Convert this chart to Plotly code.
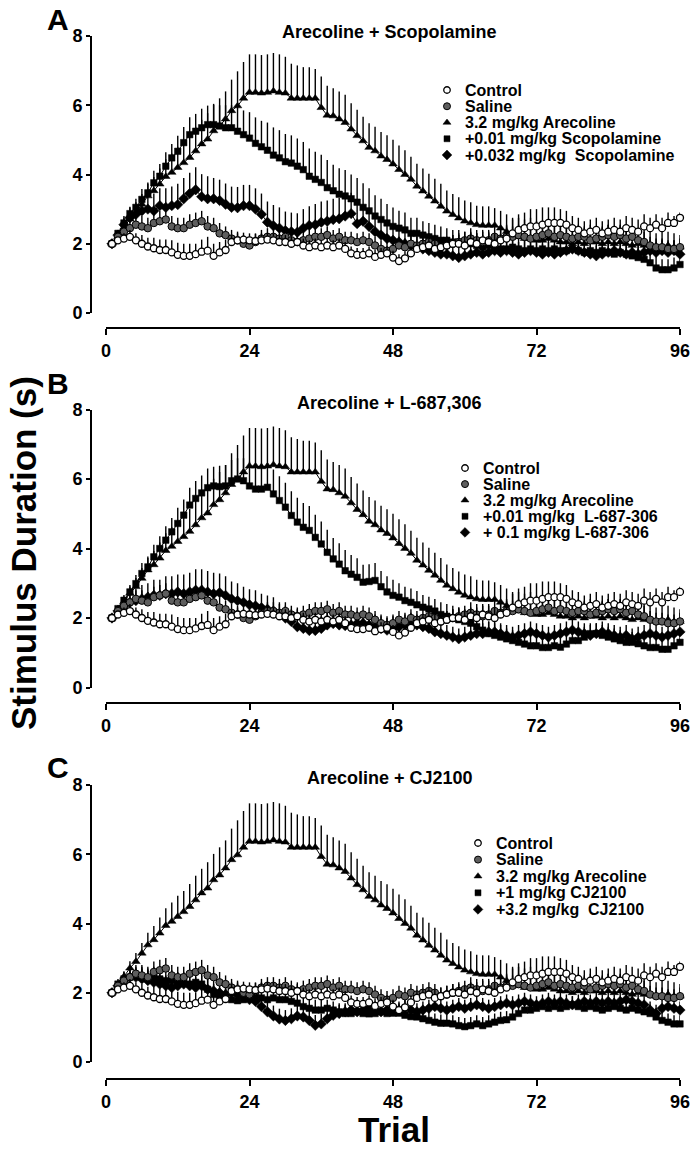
import plotly.graph_objects as go

W, H = 690, 1152
FONT = "Liberation Sans, Arial, sans-serif"

TRIALS = list(range(1, 97))
X_TICKS = [0, 24, 48, 72, 96]
Y_TICKS = [0, 2, 4, 6, 8]

# ---------------- shared series ----------------
CONTROL = [2.00, 2.10, 2.15, 2.20, 2.10, 2.00, 1.92, 1.87, 1.82, 1.82, 1.75, 1.68,
           1.65, 1.65, 1.70, 1.77, 1.80, 1.65, 1.75, 1.82, 2.05, 2.10, 2.12, 2.10,
           2.08, 2.10, 2.12, 2.10, 2.05, 2.05, 2.00, 2.05, 1.95, 1.90, 1.95, 1.90,
           1.95, 1.90, 1.95, 1.85, 1.72, 1.68, 1.68, 1.72, 1.62, 1.68, 1.72, 1.60,
           1.50, 1.58, 1.72, 1.85, 1.90, 1.95, 1.85, 1.90, 1.95, 2.00, 2.00, 1.95,
           2.05, 2.00, 2.10, 2.05, 2.00, 2.10, 2.15, 2.30, 2.40, 2.45, 2.50, 2.50,
           2.55, 2.60, 2.60, 2.60, 2.55, 2.45, 2.40, 2.30, 2.35, 2.40, 2.30, 2.35,
           2.40, 2.35, 2.45, 2.40, 2.35, 2.50, 2.45, 2.55, 2.45, 2.60, 2.60, 2.75]
CONTROL_ERR = [0.05, 0.10, 0.15, 0.20, 0.20, 0.25, 0.25, 0.30, 0.30, 0.30, 0.35, 0.35,
               0.35, 0.35, 0.30, 0.35, 0.40, 0.35, 0.30, 0.30, 0.20, 0.20, 0.20, 0.20,
               0.20, 0.20, 0.20, 0.20, 0.20, 0.20, 0.20, 0.20, 0.20, 0.20, 0.20, 0.20,
               0.20, 0.20, 0.20, 0.20, 0.20, 0.20, 0.20, 0.20, 0.20, 0.20, 0.20, 0.20,
               0.20, 0.20, 0.20, 0.20, 0.20, 0.20, 0.25, 0.25, 0.25, 0.25, 0.25, 0.25,
               0.25, 0.30, 0.30, 0.30, 0.30, 0.35, 0.40, 0.40, 0.45, 0.45, 0.50, 0.50,
               0.50, 0.45, 0.45, 0.40, 0.40, 0.35, 0.35, 0.35, 0.35, 0.35, 0.35, 0.35,
               0.35, 0.35, 0.35, 0.35, 0.35, 0.35, 0.30, 0.30, 0.30, 0.30, 0.20, 0.15]

SALINE = [2.00, 2.20, 2.35, 2.45, 2.55, 2.50, 2.45, 2.60, 2.65, 2.70, 2.50, 2.45,
          2.45, 2.55, 2.60, 2.65, 2.50, 2.45, 2.30, 2.25, 2.15, 2.10, 2.00, 1.95,
          2.05, 2.15, 2.20, 2.20, 2.15, 2.20, 2.10, 2.05, 2.10, 2.15, 2.20, 2.20,
          2.25, 2.15, 2.20, 2.10, 2.10, 2.05, 2.10, 2.05, 1.95, 1.85, 1.80, 1.85,
          1.95, 1.90, 2.00, 1.95, 2.00, 2.05, 2.00, 1.90, 1.95, 2.00, 2.05, 2.10,
          2.15, 2.10, 2.05, 2.10, 2.20, 2.15, 2.20, 2.20, 2.25, 2.20, 2.15, 2.20,
          2.25, 2.30, 2.20, 2.25, 2.20, 2.15, 2.20, 2.20, 2.10, 2.15, 2.20, 2.25,
          2.20, 2.25, 2.15, 2.20, 2.10, 2.05, 1.95, 1.90, 1.90, 1.85, 1.85, 1.90]
SALINE_ERR = [0.05, 0.15, 0.20, 0.25, 0.25, 0.30, 0.30, 0.30, 0.30, 0.30, 0.30, 0.30,
              0.30, 0.30, 0.30, 0.30, 0.30, 0.30, 0.30, 0.25, 0.25, 0.25, 0.25, 0.25,
              0.25, 0.25, 0.25, 0.25, 0.25, 0.25, 0.25, 0.25, 0.25, 0.25, 0.25, 0.25,
              0.25, 0.25, 0.25, 0.25, 0.25, 0.25, 0.25, 0.25, 0.25, 0.25, 0.25, 0.25,
              0.25, 0.25, 0.25, 0.25, 0.25, 0.25, 0.25, 0.25, 0.25, 0.25, 0.25, 0.25,
              0.30, 0.30, 0.30, 0.30, 0.30, 0.30, 0.30, 0.30, 0.30, 0.30, 0.30, 0.30,
              0.30, 0.30, 0.30, 0.30, 0.30, 0.30, 0.30, 0.30, 0.30, 0.30, 0.30, 0.30,
              0.30, 0.30, 0.30, 0.30, 0.30, 0.30, 0.25, 0.25, 0.25, 0.25, 0.25, 0.25]

ARECOLINE = [2.00, 2.20, 2.47, 2.71, 2.90, 3.14, 3.38, 3.53, 3.72, 3.94, 4.06, 4.20,
             4.34, 4.49, 4.68, 4.88, 5.02, 5.26, 5.40, 5.60, 5.84, 5.98, 6.20, 6.37,
             6.37, 6.35, 6.37, 6.41, 6.37, 6.35, 6.20, 6.20, 6.20, 6.20, 6.20, 5.93,
             5.71, 5.69, 5.60, 5.50, 5.31, 5.12, 4.97, 4.78, 4.68, 4.53, 4.43, 4.30,
             4.14, 4.00, 3.86, 3.66, 3.52, 3.37, 3.23, 3.08, 2.94, 2.84, 2.74, 2.65,
             2.60, 2.55, 2.53, 2.53, 2.53, 2.45, 2.35, 2.25, 2.20, 2.15, 2.15, 2.10,
             2.10, 2.15, 2.10, 2.05, 2.05, 2.00, 2.05, 2.00, 2.05, 2.05, 2.00, 2.05,
             2.00, 2.05, 2.00, 1.95, 2.00, 1.95, 1.95, 1.90, 1.90, 1.95, 1.90, 1.90]
ARECOLINE_ERR = [0.05, 0.10, 0.15, 0.20, 0.25, 0.30, 0.35, 0.40, 0.45, 0.50, 0.55, 0.60,
                 0.60, 0.65, 0.70, 0.70, 0.75, 0.75, 0.80, 0.80, 0.90, 1.00, 1.05, 1.10,
                 1.10, 1.10, 1.10, 1.10, 1.10, 1.05, 1.00, 0.95, 0.90, 0.90, 0.85, 0.90,
                 0.85, 0.80, 0.80, 0.80, 0.75, 0.75, 0.70, 0.70, 0.70, 0.70, 0.70, 0.70,
                 0.70, 0.70, 0.65, 0.65, 0.65, 0.65, 0.65, 0.65, 0.60, 0.60, 0.60, 0.60,
                 0.60, 0.55, 0.55, 0.55, 0.50, 0.50, 0.50, 0.50, 0.55, 0.55, 0.60, 0.55,
                 0.55, 0.50, 0.50, 0.55, 0.50, 0.45, 0.50, 0.45, 0.50, 0.45, 0.45, 0.50,
                 0.45, 0.45, 0.50, 0.45, 0.40, 0.45, 0.40, 0.40, 0.45, 0.40, 0.40, 0.35]

# ---------------- panel A: scopolamine ----------------
SCOP_001 = [2.00, 2.30, 2.60, 2.87, 3.05, 3.28, 3.47, 3.76, 3.95, 4.24, 4.48, 4.67,
            4.92, 5.15, 5.25, 5.35, 5.44, 5.44, 5.40, 5.35, 5.35, 5.25, 5.15, 5.05,
            4.90, 4.80, 4.70, 4.56, 4.48, 4.37, 4.33, 4.24, 4.14, 3.95, 3.86, 3.77,
            3.62, 3.53, 3.43, 3.38, 3.30, 3.20, 3.05, 2.95, 2.80, 2.70, 2.60, 2.50,
            2.45, 2.40, 2.30, 2.30, 2.25, 2.20, 2.15, 2.10, 2.10, 2.05, 2.05, 2.00,
            2.00, 1.95, 1.90, 1.95, 1.90, 1.85, 1.85, 1.90, 1.85, 1.80, 1.85, 1.80,
            1.85, 1.80, 1.85, 1.80, 1.80, 1.85, 1.80, 1.75, 1.80, 1.75, 1.80, 1.75,
            1.70, 1.75, 1.70, 1.65, 1.60, 1.55, 1.45, 1.30, 1.25, 1.25, 1.30, 1.40]
SCOP_001_ERR = [0.05, 0.10, 0.15, 0.20, 0.25, 0.30, 0.30, 0.35, 0.35, 0.40, 0.40, 0.45,
                0.45, 0.50, 0.50, 0.55, 0.55, 0.60, 0.60, 0.65, 0.65, 0.70, 0.70, 0.75,
                0.75, 0.75, 0.80, 0.80, 0.80, 0.80, 0.80, 0.80, 0.80, 0.80, 0.80, 0.80,
                0.80, 0.75, 0.75, 0.75, 0.70, 0.70, 0.70, 0.65, 0.60, 0.60, 0.55, 0.55,
                0.50, 0.50, 0.45, 0.45, 0.40, 0.40, 0.40, 0.40, 0.35, 0.35, 0.35, 0.35,
                0.35, 0.35, 0.35, 0.35, 0.35, 0.35, 0.35, 0.35, 0.35, 0.35, 0.35, 0.35,
                0.35, 0.35, 0.35, 0.35, 0.35, 0.35, 0.35, 0.35, 0.35, 0.35, 0.35, 0.35,
                0.35, 0.35, 0.35, 0.35, 0.35, 0.35, 0.35, 0.35, 0.30, 0.30, 0.30, 0.30]
SCOP_0032 = [2.00, 2.25, 2.55, 2.75, 2.85, 2.95, 3.00, 2.95, 3.10, 3.05, 3.10, 3.13,
             3.30, 3.45, 3.56, 3.36, 3.30, 3.30, 3.25, 3.14, 3.05, 3.04, 3.10, 3.10,
             3.00, 2.85, 2.62, 2.52, 2.45, 2.38, 2.35, 2.33, 2.45, 2.53, 2.55, 2.62,
             2.65, 2.70, 2.72, 2.80, 2.87, 2.58, 2.65, 2.50, 2.35, 2.25, 2.15, 2.10,
             2.05, 2.00, 1.95, 1.90, 1.85, 1.80, 1.75, 1.70, 1.70, 1.65, 1.60, 1.65,
             1.70, 1.75, 1.70, 1.75, 1.80, 1.75, 1.80, 1.75, 1.70, 1.75, 1.80, 1.75,
             1.70, 1.75, 1.70, 1.75, 1.80, 1.85, 1.80, 1.75, 1.70, 1.65, 1.70, 1.75,
             1.80, 1.75, 1.70, 1.75, 1.70, 1.75, 1.80, 1.75, 1.80, 1.75, 1.80, 1.70]
SCOP_0032_ERR = [0.05, 0.15, 0.25, 0.30, 0.35, 0.40, 0.45, 0.50, 0.50, 0.55, 0.55, 0.60,
                 0.60, 0.60, 0.65, 0.65, 0.65, 0.60, 0.60, 0.60, 0.60, 0.60, 0.60, 0.60,
                 0.60, 0.60, 0.60, 0.60, 0.60, 0.55, 0.55, 0.55, 0.55, 0.55, 0.60, 0.60,
                 0.60, 0.60, 0.60, 0.60, 0.60, 0.55, 0.50, 0.50, 0.45, 0.45, 0.40, 0.40,
                 0.35, 0.35, 0.35, 0.35, 0.35, 0.35, 0.35, 0.35, 0.35, 0.35, 0.35, 0.35,
                 0.35, 0.35, 0.35, 0.35, 0.35, 0.35, 0.35, 0.35, 0.35, 0.35, 0.35, 0.35,
                 0.30, 0.30, 0.30, 0.30, 0.30, 0.30, 0.30, 0.30, 0.30, 0.30, 0.30, 0.30,
                 0.30, 0.30, 0.30, 0.30, 0.30, 0.30, 0.30, 0.30, 0.30, 0.30, 0.30, 0.30]

# ---------------- panel B: L-687,306 ----------------
L687_001 = [2.00, 2.27, 2.51, 2.75, 2.99, 3.28, 3.47, 3.76, 4.00, 4.24, 4.48, 4.72,
            4.96, 5.25, 5.44, 5.60, 5.75, 5.80, 5.78, 5.80, 5.95, 6.00, 5.95, 5.80,
            5.71, 5.71, 5.76, 5.57, 5.38, 5.19, 4.95, 4.76, 4.61, 4.52, 4.32, 4.13,
            3.89, 3.70, 3.55, 3.36, 3.26, 3.17, 3.03, 3.05, 3.08, 2.90, 2.75, 2.65,
            2.60, 2.50, 2.45, 2.38, 2.31, 2.26, 2.20, 2.10, 2.05, 2.00, 1.95, 1.90,
            1.85, 1.75, 1.65, 1.55, 1.50, 1.45, 1.40, 1.35, 1.30, 1.25, 1.20, 1.20,
            1.15, 1.15, 1.20, 1.16, 1.25, 1.35, 1.35, 1.45, 1.55, 1.55, 1.50, 1.45,
            1.40, 1.35, 1.30, 1.30, 1.26, 1.20, 1.15, 1.15, 1.10, 1.10, 1.20, 1.30]
L687_001_ERR = [0.05, 0.10, 0.15, 0.20, 0.25, 0.30, 0.30, 0.35, 0.35, 0.40, 0.40, 0.45,
                0.45, 0.50, 0.50, 0.50, 0.55, 0.55, 0.60, 0.60, 0.60, 0.60, 0.65, 0.70,
                0.70, 0.70, 0.70, 0.70, 0.70, 0.70, 0.70, 0.70, 0.70, 0.70, 0.65, 0.65,
                0.65, 0.60, 0.60, 0.60, 0.55, 0.55, 0.50, 0.50, 0.50, 0.45, 0.45, 0.45,
                0.40, 0.40, 0.40, 0.40, 0.35, 0.35, 0.35, 0.35, 0.35, 0.35, 0.35, 0.35,
                0.35, 0.35, 0.35, 0.35, 0.35, 0.35, 0.30, 0.30, 0.30, 0.30, 0.30, 0.30,
                0.30, 0.30, 0.30, 0.30, 0.30, 0.30, 0.30, 0.30, 0.30, 0.30, 0.30, 0.30,
                0.30, 0.30, 0.30, 0.30, 0.30, 0.30, 0.30, 0.30, 0.30, 0.30, 0.30, 0.30]
L687_01 = [2.00, 2.20, 2.35, 2.45, 2.50, 2.55, 2.60, 2.65, 2.65, 2.70, 2.70, 2.75,
           2.70, 2.75, 2.80, 2.80, 2.75, 2.70, 2.73, 2.65, 2.55, 2.50, 2.45, 2.38,
           2.35, 2.30, 2.25, 2.20, 2.10, 2.00, 1.90, 1.75, 1.70, 1.64, 1.64, 1.70,
           1.80, 1.84, 1.80, 1.78, 1.80, 1.84, 1.85, 1.80, 1.75, 1.70, 1.65, 1.70,
           1.75, 1.80, 1.85, 1.80, 1.75, 1.70, 1.60, 1.55, 1.50, 1.45, 1.40, 1.45,
           1.50, 1.55, 1.55, 1.60, 1.60, 1.55, 1.50, 1.45, 1.50, 1.55, 1.60, 1.55,
           1.50, 1.45, 1.50, 1.55, 1.60, 1.65, 1.60, 1.55, 1.50, 1.55, 1.60, 1.55,
           1.50, 1.45, 1.50, 1.40, 1.45, 1.50, 1.55, 1.50, 1.45, 1.50, 1.55, 1.60]
L687_01_ERR = [0.05, 0.15, 0.25, 0.30, 0.35, 0.40, 0.40, 0.45, 0.45, 0.50, 0.50, 0.50,
               0.55, 0.55, 0.60, 0.60, 0.60, 0.60, 0.55, 0.55, 0.50, 0.50, 0.45, 0.45,
               0.45, 0.40, 0.40, 0.40, 0.35, 0.35, 0.35, 0.35, 0.35, 0.35, 0.35, 0.35,
               0.35, 0.35, 0.35, 0.35, 0.35, 0.35, 0.35, 0.35, 0.35, 0.35, 0.35, 0.35,
               0.30, 0.30, 0.30, 0.30, 0.30, 0.30, 0.30, 0.30, 0.30, 0.30, 0.30, 0.30,
               0.30, 0.30, 0.30, 0.30, 0.30, 0.30, 0.30, 0.30, 0.30, 0.30, 0.30, 0.30,
               0.30, 0.30, 0.30, 0.30, 0.30, 0.30, 0.30, 0.30, 0.30, 0.30, 0.30, 0.30,
               0.30, 0.30, 0.30, 0.30, 0.30, 0.30, 0.30, 0.30, 0.30, 0.30, 0.30, 0.30]

# ---------------- panel C: CJ2100 ----------------
CJ_1 = [2.00, 2.25, 2.40, 2.45, 2.50, 2.45, 2.40, 2.45, 2.40, 2.35, 2.35, 2.30,
        2.30, 2.25, 2.30, 2.25, 2.10, 1.95, 1.85, 1.84, 1.80, 1.77, 1.80, 1.85,
        1.90, 1.85, 1.80, 1.85, 1.80, 1.80, 1.75, 1.70, 1.60, 1.55, 1.50, 1.50,
        1.55, 1.50, 1.45, 1.40, 1.40, 1.45, 1.40, 1.39, 1.40, 1.45, 1.40, 1.41,
        1.41, 1.35, 1.31, 1.30, 1.25, 1.20, 1.15, 1.12, 1.12, 1.10, 1.05, 1.02,
        1.05, 1.10, 1.05, 1.10, 1.15, 1.20, 1.22, 1.30, 1.40, 1.50, 1.50, 1.55,
        1.60, 1.55, 1.60, 1.55, 1.60, 1.65, 1.60, 1.55, 1.60, 1.55, 1.50, 1.55,
        1.60, 1.55, 1.50, 1.55, 1.50, 1.45, 1.40, 1.30, 1.20, 1.15, 1.10, 1.10]
CJ_1_ERR = [0.05, 0.15, 0.20, 0.25, 0.25, 0.30, 0.30, 0.30, 0.30, 0.30, 0.30, 0.30,
            0.30, 0.30, 0.30, 0.30, 0.30, 0.30, 0.30, 0.30, 0.30, 0.30, 0.30, 0.30,
            0.30, 0.30, 0.30, 0.30, 0.30, 0.30, 0.30, 0.30, 0.30, 0.30, 0.30, 0.30,
            0.25, 0.25, 0.25, 0.25, 0.25, 0.25, 0.25, 0.25, 0.25, 0.25, 0.25, 0.25,
            0.25, 0.25, 0.25, 0.25, 0.25, 0.25, 0.25, 0.25, 0.25, 0.25, 0.25, 0.25,
            0.25, 0.25, 0.25, 0.25, 0.25, 0.25, 0.25, 0.25, 0.25, 0.25, 0.25, 0.25,
            0.25, 0.25, 0.25, 0.25, 0.25, 0.25, 0.25, 0.25, 0.25, 0.25, 0.25, 0.25,
            0.25, 0.25, 0.25, 0.25, 0.25, 0.25, 0.25, 0.25, 0.25, 0.25, 0.25, 0.25]
CJ_32 = [2.00, 2.20, 2.35, 2.45, 2.45, 2.40, 2.35, 2.30, 2.25, 2.20, 2.15, 2.20,
         2.25, 2.20, 2.15, 2.20, 2.10, 2.05, 2.00, 1.95, 2.00, 1.95, 1.90, 1.80,
         1.75, 1.60, 1.45, 1.33, 1.24, 1.20, 1.25, 1.33, 1.30, 1.20, 1.06, 1.10,
         1.25, 1.35, 1.40, 1.45, 1.50, 1.45, 1.50, 1.55, 1.50, 1.45, 1.50, 1.55,
         1.50, 1.55, 1.50, 1.45, 1.50, 1.55, 1.60, 1.55, 1.50, 1.55, 1.60, 1.55,
         1.60, 1.65, 1.60, 1.55, 1.60, 1.65, 1.70, 1.65, 1.70, 1.75, 1.70, 1.65,
         1.70, 1.75, 1.70, 1.75, 1.70, 1.65, 1.70, 1.75, 1.70, 1.75, 1.70, 1.75,
         1.70, 1.75, 1.80, 1.75, 1.70, 1.65, 1.50, 1.40, 1.55, 1.60, 1.55, 1.50]
CJ_32_ERR = [0.05, 0.15, 0.20, 0.25, 0.25, 0.30, 0.30, 0.30, 0.30, 0.30, 0.30, 0.30,
             0.30, 0.30, 0.30, 0.30, 0.30, 0.30, 0.30, 0.30, 0.30, 0.30, 0.30, 0.30,
             0.30, 0.30, 0.30, 0.30, 0.30, 0.30, 0.30, 0.30, 0.30, 0.30, 0.30, 0.30,
             0.25, 0.25, 0.25, 0.25, 0.25, 0.25, 0.25, 0.25, 0.25, 0.25, 0.25, 0.25,
             0.25, 0.25, 0.25, 0.25, 0.25, 0.25, 0.25, 0.25, 0.25, 0.25, 0.25, 0.25,
             0.25, 0.25, 0.25, 0.25, 0.25, 0.25, 0.25, 0.25, 0.25, 0.25, 0.25, 0.25,
             0.25, 0.25, 0.25, 0.25, 0.25, 0.25, 0.25, 0.25, 0.25, 0.25, 0.25, 0.25,
             0.25, 0.25, 0.25, 0.25, 0.25, 0.25, 0.25, 0.25, 0.25, 0.25, 0.25, 0.25]

for arr in [CONTROL, CONTROL_ERR, SALINE, SALINE_ERR, ARECOLINE, ARECOLINE_ERR,
            SCOP_001, SCOP_001_ERR, SCOP_0032, SCOP_0032_ERR, L687_001, L687_001_ERR,
            L687_01, L687_01_ERR, CJ_1, CJ_1_ERR, CJ_32, CJ_32_ERR]:
    assert len(arr) == 96, len(arr)

# ---------------- styles ----------------
STYLE = {
    "ctrl": dict(symbol="circle", color="white", size=7, lw=1.3),
    "sal": dict(symbol="circle", color="#5e5e5e", size=7.5, lw=1.0),
    "are": dict(symbol="triangle-up", color="black", size=7.5, lw=0.5),
    "sq": dict(symbol="square", color="black", size=6.5, lw=0.5),
    "dia": dict(symbol="diamond", color="black", size=8, lw=0.5),
}

PANELS = [
    dict(letter="A", title="Arecoline + Scopolamine",
         series=[("Control", CONTROL, CONTROL_ERR, "ctrl"),
                 ("Saline", SALINE, SALINE_ERR, "sal"),
                 ("3.2 mg/kg Arecoline", ARECOLINE, ARECOLINE_ERR, "are"),
                 ("+0.01 mg/kg Scopolamine", SCOP_001, SCOP_001_ERR, "sq"),
                 ("+0.032 mg/kg\u00a0\u00a0Scopolamine", SCOP_0032, SCOP_0032_ERR, "dia")],
         y0=313, y8=36, xline=328, title_y=32, letter_y=19,
         leg_x=447, leg_y=90, leg_dy=16.25),
    dict(letter="B", title="Arecoline + L-687,306",
         series=[("Control", CONTROL, CONTROL_ERR, "ctrl"),
                 ("Saline", SALINE, SALINE_ERR, "sal"),
                 ("3.2 mg/kg Arecoline", ARECOLINE, ARECOLINE_ERR, "are"),
                 ("+0.01 mg/kg\u00a0\u00a0L-687-306", L687_001, L687_001_ERR, "sq"),
                 ("+ 0.1 mg/kg L-687-306", L687_01, L687_01_ERR, "dia")],
         y0=687.5, y8=409.5, xline=703, title_y=403, letter_y=384,
         leg_x=465, leg_y=468, leg_dy=16.1),
    dict(letter="C", title="Arecoline + CJ2100",
         series=[("Control", CONTROL, CONTROL_ERR, "ctrl"),
                 ("Saline", SALINE, SALINE_ERR, "sal"),
                 ("3.2 mg/kg Arecoline", ARECOLINE, ARECOLINE_ERR, "are"),
                 ("+1 mg/kg CJ2100", CJ_1, CJ_1_ERR, "sq"),
                 ("+3.2 mg/kg\u00a0\u00a0CJ2100", CJ_32, CJ_32_ERR, "dia")],
         y0=1062, y8=785, xline=1079, title_y=778, letter_y=767,
         leg_x=478, leg_y=843, leg_dy=16.6),
]

X_LEFT, X_RIGHT = 106, 680   # pixel position of trial 0 and 96
Y_AXIS_X = 91


def fx(px):
    return px / W


def fy(py):
    return 1 - py / H


fig = go.Figure()
annotations = []
layout = dict(width=W, height=H, margin=dict(l=0, r=0, t=0, b=0),
              paper_bgcolor="white", plot_bgcolor="rgba(0,0,0,0)",
              showlegend=False, autosize=False)

tickfont = dict(family=FONT, size=18, color="black", weight="bold")

for i, p in enumerate(PANELS, start=1):
    sfx = "" if i == 1 else str(i)
    layout["xaxis" + sfx] = dict(
        domain=[fx(X_LEFT), fx(X_RIGHT)], range=[0, 96], anchor="free",
        position=fy(p["xline"]), showline=True, linewidth=2, linecolor="black",
        ticks="outside", ticklen=6, tickwidth=2, tickcolor="black",
        tickvals=X_TICKS, tickfont=tickfont, showgrid=False, zeroline=False,
        fixedrange=True, automargin=False, ticklabeloverflow="allow")
    layout["yaxis" + sfx] = dict(
        domain=[fy(p["y0"]), fy(p["y8"])], range=[0, 8], anchor="free",
        position=fx(Y_AXIS_X), showline=True, linewidth=2, linecolor="black",
        ticks="outside", ticklen=4, tickwidth=2, tickcolor="black",
        tickvals=Y_TICKS, tickfont=tickfont, showgrid=False, zeroline=False,
        fixedrange=True, automargin=False, ticklabeloverflow="allow")

    # draw last series first so that control sits on top
    for name, vals, err, st in reversed(p["series"]):
        s = STYLE[st]
        fig.add_trace(go.Scatter(
            x=TRIALS, y=vals, mode="lines+markers", name=name,
            xaxis="x" + sfx, yaxis="y" + sfx,
            line=dict(color="black", width=1),
            marker=dict(symbol=s["symbol"], color=s["color"], size=s["size"],
                        line=dict(color="black", width=s["lw"])),
            error_y=dict(type="data", array=err, arrayminus=[0] * len(err),
                         symmetric=False, color="black", thickness=1.4, width=0),
            cliponaxis=False, hoverinfo="skip"))

    # legend: symbols on a pixel-coordinate overlay axis, labels as annotations
    for k, (name, vals, err, st) in enumerate(p["series"]):
        s = STYLE[st]
        ly = p["leg_y"] + k * p["leg_dy"]
        fig.add_trace(go.Scatter(
            x=[p["leg_x"]], y=[ly], mode="markers", xaxis="x4", yaxis="y4",
            marker=dict(symbol=s["symbol"], color=s["color"], size=s["size"] - 0.5,
                        line=dict(color="black", width=s["lw"])),
            hoverinfo="skip", cliponaxis=False))
        annotations.append(dict(
            x=fx(p["leg_x"] + 16), y=fy(ly), xref="paper", yref="paper",
            text=name, showarrow=False, xanchor="left", yanchor="middle",
            font=dict(family=FONT, size=16, color="black", weight="bold")))

    annotations.append(dict(
        x=fx(390), y=fy(p["title_y"]), xref="paper", yref="paper", text=p["title"],
        showarrow=False, xanchor="center", yanchor="middle",
        font=dict(family=FONT, size=18, color="black", weight="bold")))
    annotations.append(dict(
        x=fx(58), y=fy(p["letter_y"]), xref="paper", yref="paper", text=p["letter"],
        showarrow=False, xanchor="center", yanchor="middle",
        font=dict(family=FONT, size=30, color="black", weight="bold")))

layout["xaxis4"] = dict(domain=[0, 1], range=[0, W], anchor="y4", visible=False,
                        fixedrange=True)
layout["yaxis4"] = dict(domain=[0, 1], range=[H, 0], anchor="x4", visible=False,
                        fixedrange=True)

annotations.append(dict(
    x=fx(23), y=fy(553), xref="paper", yref="paper", text="Stimulus Duration (s)",
    textangle=-90, showarrow=False, xanchor="center", yanchor="middle",
    font=dict(family=FONT, size=35, color="black", weight="bold")))
annotations.append(dict(
    x=fx(394), y=fy(1151), xref="paper", yref="paper", text="Trial",
    showarrow=False, xanchor="center", yanchor="bottom",
    font=dict(family=FONT, size=35, color="black", weight="bold")))

layout["annotations"] = annotations
fig.update_layout(**layout)
fig.write_html("out.html",
               config={"displayModeBar": False, "staticPlot": True},
               post_script="document.body.style.margin='0px';"
                           "document.body.style.overflow='hidden';")
